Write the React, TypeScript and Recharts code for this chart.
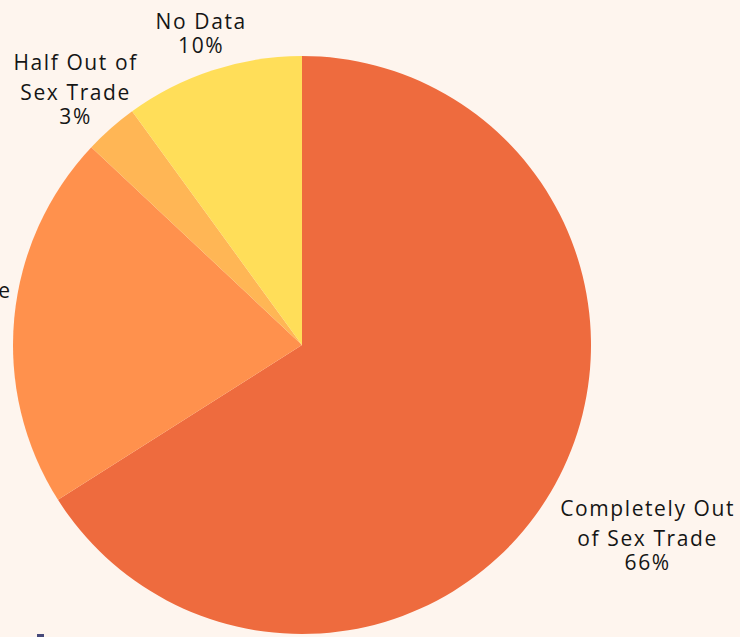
import React from 'react';
import { PieChart, Pie, Cell } from 'recharts';

const categories = [
  ['Completely Out', 'of Sex Trade'],
  ['Still in', 'Sex Trade'],
  ['Half Out of', 'Sex Trade'],
  ['No Data'],
];
const shares = [66, 21, 3, 10];
const colors = ['#EE6B3E', '#FF914D', '#FFB655', '#FFDE59'];

// label placement: extra radius beyond the pie + angle nudge (deg), per slice
const labelRadius = [93, 67, 73, 50];
const labelAngle = [3.6, -8.4, -2.7, -0.7];

const data = categories.map((lines, i) => ({ name: lines.join(' '), lines, value: shares[i] }));

const RAD = Math.PI / 180;

const renderLabel = (props: any) => {
  const { cx, cy, midAngle, outerRadius, index } = props;
  const r = outerRadius + labelRadius[index];
  const a = (midAngle + labelAngle[index]) * RAD;
  const x = cx + r * Math.cos(a);
  const y = cy - r * Math.sin(a);
  const lines: string[] = data[index].lines;
  return (
    <text
      x={x}
      y={y}
      fill="#151515"
      fontSize={21}
      fontFamily="'Open Sans', sans-serif"
      letterSpacing={1.6}
      textAnchor="middle"
      dominantBaseline="central"
    >
      {lines.map((l, k) => (
        <tspan key={k} x={x} y={y + k * 30}>
          {l}
        </tspan>
      ))}
      <tspan x={x} y={y + (lines.length - 1) * 30 + 24}>
        {data[index].value}%
      </tspan>
    </text>
  );
};

export default function App() {
  return (
    <div
      style={{
        position: 'absolute',
        left: 0,
        top: 0,
        width: 740,
        height: 637,
        background: '#FEF5EE',
        overflow: 'hidden',
      }}
    >
      <PieChart
        width={740}
        height={637}
        margin={{ top: 0, right: 0, bottom: 0, left: 0 }}
        style={{ overflow: 'visible' }}
      >
        <Pie
          data={data}
          dataKey="value"
          cx={302}
          cy={345}
          outerRadius={289}
          startAngle={90}
          endAngle={-270}
          stroke="none"
          labelLine={false}
          label={renderLabel}
          isAnimationActive={false}
        >
          {data.map((d, i) => (
            <Cell key={d.name} fill={colors[i]} />
          ))}
        </Pie>
      </PieChart>
      <div
        style={{
          position: 'absolute',
          left: 37,
          top: 634,
          width: 7,
          height: 3,
          background: '#474A7A',
        }}
      />
    </div>
  );
}
